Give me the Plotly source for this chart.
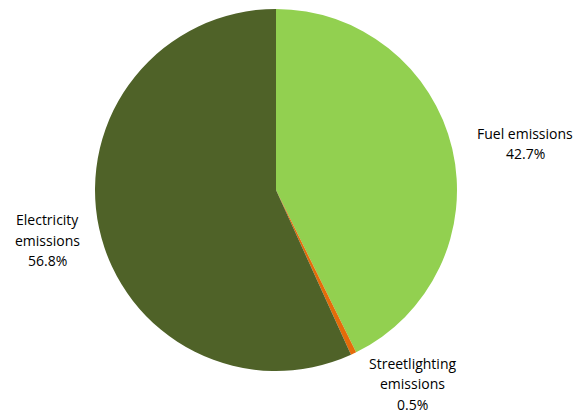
import plotly.graph_objects as go

labels = ["Fuel emissions", "Streetlighting emissions", "Electricity emissions"]
values = [42.7, 0.5, 56.8]
colors = ["#92D050", "#E46C0A", "#4F6228"]
label_lines = [["Fuel emissions", "42.7%"], ["Streetlighting", "emissions", "0.5%"], ["Electricity", "emissions", "56.8%"]]
label_pos = [(525, 133), (412, 363), (47, 219.5)]
LINE = 20.6

W, H = 582, 414
fig = go.Figure(go.Pie(
    labels=labels, values=values, sort=False, direction="clockwise", rotation=0,
    marker=dict(colors=colors, line=dict(width=0)),
    textinfo="none", hoverinfo="label+percent",
    domain=dict(x=[95 / W, 457 / W], y=[(H - 371) / H, (H - 9) / H]),
))
for lines, (x, y) in zip(label_lines, label_pos):
    for i, t in enumerate(lines):
        fig.add_annotation(x=x / W, y=1 - (y + i * LINE) / H, xref="paper", yref="paper", text=t,
                           showarrow=False, align="center", xanchor="center", yanchor="middle",
                           font=dict(family="Open Sans, Arial", size=14, color="#000000"))
fig.update_layout(width=W, height=H, margin=dict(l=0, r=0, t=0, b=0), showlegend=False,
                  paper_bgcolor="white", plot_bgcolor="white")
fig.write_html("out.html")
